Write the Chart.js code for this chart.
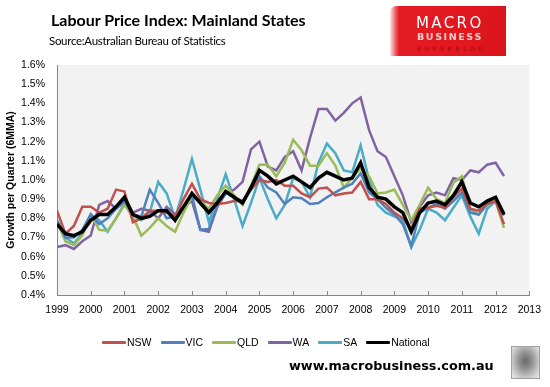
<!DOCTYPE html>
<html>
<head>
<meta charset="utf-8">
<script src="https://cdn.jsdelivr.net/npm/chart.js@4.4.1/dist/chart.umd.min.js"></script>
<style>
  body { margin: 0; background: #fff; }
  #wrap { position: relative; width: 550px; height: 387px; overflow: hidden; font-family: "Liberation Sans", Arial, sans-serif; }
  #chart { position: absolute; left: 0; top: 0; }
  #title { position: absolute; left: 51px; top: 10px; font: bold 16px Lato, sans-serif; color: #000; white-space: nowrap; }
  #source { position: absolute; left: 49px; top: 34px; font: 11.5px Lato, sans-serif; color: #000; letter-spacing: -0.3px; white-space: nowrap; }
  #logo { position: absolute; left: 390px; top: 6px; width: 116px; height: 50px;
    background: linear-gradient(90deg, #fbe9e9 0px, #ee6a6e 5px, #e31b23 9px, #e21820 60%, #d9141b 100%);
    border-top-left-radius: 6px; }
  #logo .m { position: absolute; left: 26px; top: 8px; font: 15px "DejaVu Sans", sans-serif; color: #fff; letter-spacing: 2.4px; }
  #logo .b { position: absolute; left: 27px; top: 25px; font: bold 9.5px "DejaVu Sans", sans-serif; color: #f7c9c9; letter-spacing: 1.6px; }
  #logo .s { position: absolute; left: 27px; top: 39px; font: bold 6px "DejaVu Sans", sans-serif; color: #b80f16; letter-spacing: 3.2px; }
  #legend { position: absolute; left: 102px; top: 336px; display: flex; align-items: center; font: 10.5px "Liberation Sans", Arial, sans-serif; color: #000; }
  #legend .item { display: flex; align-items: center; margin-right: 9px; }
  #legend .ln { width: 24px; height: 3px; border-radius: 1px; margin-right: 1px; }
  #footer { position: absolute; left: 289px; top: 358px; font: bold 12.8px "DejaVu Sans", Verdana, sans-serif; color: #000; white-space: nowrap; }
  #wolf { position: absolute; left: 511px; top: 346px; width: 27px; height: 31px; border: 1px solid #a0a0a0;
    background: radial-gradient(ellipse at 50% 45%, #6a6a6a 0%, #929292 35%, #c8c8c8 70%, #ececec 100%); }
</style>
</head>
<body>
<div id="wrap">
  <canvas id="chart" width="550" height="387"></canvas>
  <div id="title">Labour Price Index: Mainland States</div>
  <div id="source">Source:Australian Bureau of Statistics</div>
  <div id="logo"><span class="m">MACRO</span><span class="b">BUSINESS</span><span class="s">SUPERBLOG</span></div>
  <div id="legend"></div>
  <div id="footer">www.macrobusiness.com.au</div>
  <div id="wolf"></div>
</div>
<script>
// quarterly series, first quarter of 1999 onwards (% growth per quarter, 6MMA)
const startYear = 1999;

const nsw = [0.84,0.72,0.76,0.86,0.86,0.83,0.85,0.95,0.94,0.78,0.80,0.84,0.84,0.83,
  0.81,0.90,0.98,0.90,0.88,0.875,0.88,0.89,0.89,0.95,1.00,0.99,1.00,0.97,
  0.97,0.93,0.91,0.955,0.96,0.92,0.93,0.935,0.99,0.90,0.90,0.875,0.83,
  0.80,0.745,0.85,0.855,0.865,0.855,0.91,0.955,0.85,0.84,0.875,0.89,0.77];

const vic = [0.79,0.70,0.70,0.74,0.82,0.77,0.80,0.85,0.89,0.82,0.81,0.95,0.88,0.80,
  0.81,0.86,0.92,0.74,0.745,0.86,0.935,0.91,0.89,0.95,1.02,0.96,0.935,0.875,
  0.91,0.905,0.875,0.88,0.91,0.935,0.96,0.98,1.035,0.935,0.90,0.855,0.82,
  0.77,0.655,0.83,0.855,0.875,0.85,0.89,0.935,0.83,0.82,0.875,0.89,0.815];

const qld = [0.78,0.68,0.66,0.71,0.82,0.74,0.735,0.80,0.87,0.81,0.71,0.75,0.80,0.76,
  0.73,0.83,0.91,0.89,0.85,0.92,0.97,0.92,0.87,0.97,1.08,1.08,1.02,1.09,
  1.21,1.155,1.075,1.075,1.14,1.075,0.96,1.01,1.06,1.02,0.93,0.935,0.95,
  0.87,0.79,0.87,0.96,0.90,0.88,0.985,1.02,0.85,0.82,0.87,0.89,0.75];

const wa = [0.65,0.66,0.64,0.68,0.71,0.87,0.89,0.85,0.89,0.83,0.85,0.84,0.80,0.86,
  0.82,0.86,0.89,0.74,0.73,0.86,0.93,0.95,0.99,1.16,1.20,1.07,1.05,1.12,
  1.15,1.05,1.22,1.37,1.37,1.31,1.35,1.40,1.43,1.26,1.15,1.12,1.02,
  0.92,0.78,0.86,0.92,0.935,0.92,1.01,1.00,1.05,1.04,1.08,1.09,1.02];

const sa = [0.79,0.70,0.67,0.72,0.82,0.79,0.73,0.80,0.88,0.82,0.79,0.83,0.99,0.93,
  0.80,0.95,1.11,0.95,0.78,0.90,1.03,0.90,0.76,0.88,1.01,0.90,0.80,0.87,
  1.01,0.99,0.91,1.09,1.19,1.14,1.05,1.04,1.18,1.00,0.87,0.83,0.81,
  0.79,0.65,0.74,0.85,0.83,0.79,0.855,0.92,0.81,0.72,0.85,0.89,0.83];

const national = [0.77,0.72,0.71,0.73,0.79,0.82,0.82,0.86,0.91,0.82,0.80,0.81,0.84,0.84,
  0.79,0.86,0.93,0.88,0.83,0.88,0.94,0.91,0.88,0.96,1.05,1.02,0.98,1.00,
  1.02,0.99,0.96,1.01,1.04,1.02,1.00,1.01,1.09,0.96,0.91,0.90,0.86,
  0.83,0.73,0.83,0.88,0.89,0.87,0.92,0.99,0.88,0.86,0.89,0.91,0.82];

const seriesNames = ['NSW', 'VIC', 'QLD', 'WA', 'SA', 'National'];
const seriesData = [nsw, vic, qld, wa, sa, national];
const seriesColors = ['#c0504d', '#4f81bd', '#9bbb59', '#8064a2', '#4bacc6', '#000000'];

const toPoints = arr => arr.map((v, i) => ({ x: startYear + i / 4, y: v }));

const datasets = seriesNames.map((name, i) => ({
  label: name,
  data: toPoints(seriesData[i]),
  borderColor: seriesColors[i],
  borderWidth: name === 'National' ? 3.5 : 2.5,
  order: name === 'National' ? 0 : 1,
  pointRadius: 0,
  tension: 0,
  fill: false
}));

// grey plot background
const plotBg = {
  id: 'plotBg',
  beforeDraw(chart) {
    const { ctx, chartArea: a } = chart;
    ctx.save();
    ctx.fillStyle = '#f2f2f2';
    ctx.fillRect(a.left, a.top, a.right - a.left, a.bottom - a.top);
    ctx.restore();
  }
};

// small inward tick marks on the year axis
const innerTicks = {
  id: 'innerTicks',
  afterDraw(chart) {
    const { ctx, scales: { x } } = chart;
    const bottom = chart.chartArea.bottom;
    ctx.save();
    ctx.strokeStyle = '#868686';
    ctx.lineWidth = 1;
    x.ticks.forEach(t => {
      const px = Math.round(x.getPixelForValue(t.value)) + 0.5;
      ctx.beginPath();
      ctx.moveTo(px, bottom);
      ctx.lineTo(px, bottom - 4);
      ctx.stroke();
    });
    ctx.restore();
  }
};

new Chart(document.getElementById('chart'), {
  type: 'line',
  data: { datasets },
  options: {
    responsive: false,
    animation: false,
    layout: { padding: { top: 65, right: 19, bottom: 72, left: 0 } },
    plugins: { legend: { display: false }, tooltip: { enabled: false } },
    scales: {
      x: {
        type: 'linear',
        min: 1999,
        max: 2013,
        ticks: {
          stepSize: 1,
          autoSkip: false,
          maxRotation: 0,
          padding: 9,
          color: '#000',
          font: { family: '"Liberation Sans", Arial', size: 10.5 },
          callback: v => String(v)
        },
        grid: { drawOnChartArea: false, drawTicks: false },
        border: { color: '#868686' },
        afterFit: s => { s.height = 20; }
      },
      y: {
        min: 0.4,
        max: 1.6,
        ticks: {
          stepSize: 0.1,
          padding: 12,
          color: '#000',
          font: { family: '"Liberation Sans", Arial', size: 10.5 },
          callback: v => v.toFixed(1) + '%'
        },
        grid: { drawOnChartArea: false, drawTicks: false },
        border: { color: '#868686' },
        title: {
          display: true,
          text: 'Growth per Quarter (6MMA)',
          color: '#000',
          padding: { top: 5, bottom: 0 },
          font: { family: '"Liberation Sans", Arial', size: 10.5, weight: 'bold' }
        },
        afterFit: s => { s.width = 57; }
      }
    }
  },
  plugins: [plotBg, innerTicks]
});

// legend
const legend = document.getElementById('legend');
seriesNames.forEach((name, i) => {
  const item = document.createElement('div');
  item.className = 'item';
  item.innerHTML = '<span class="ln" style="background:' + seriesColors[i] + '"></span><span>' + name + '</span>';
  legend.appendChild(item);
});
</script>
</body>
</html>
